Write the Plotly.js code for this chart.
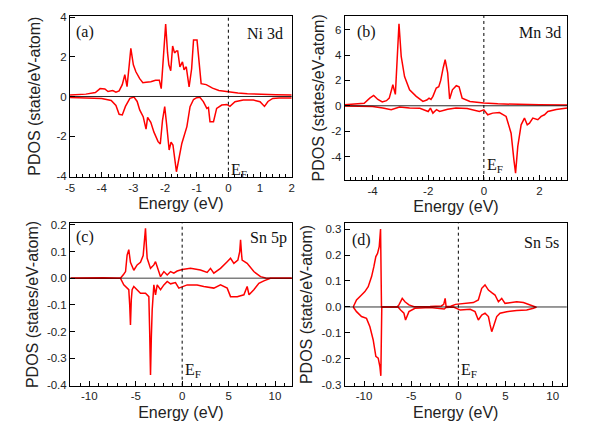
<!DOCTYPE html>
<html>
<head>
<meta charset="utf-8">
<script src="https://cdn.plot.ly/plotly-3.0.1.min.js"></script>
<style>
  html, body { margin: 0; padding: 0; background: #fff; }
  #plot { width: 599px; height: 436px; }
</style>
</head>
<body>
<div id="plot"></div>
<script>
// (a) Ni 3d
const niUpE = [-5.0, -4.5, -4.2, -4.05, -3.9, -3.8, -3.65, -3.55, -3.45, -3.35, -3.27, -3.2, -3.13, -3.08, -3.0, -2.92, -2.8, -2.7, -2.6, -2.45, -2.3, -2.18, -2.12, -2.06, -1.98, -1.92, -1.88, -1.82, -1.76, -1.7, -1.64, -1.6, -1.53, -1.45, -1.4, -1.33, -1.24, -1.16, -1.1, -0.99, -0.92, -0.86, -0.7, -0.5, -0.3, -0.1, 0.0, 0.3, 0.6, 1.0, 1.5, 2.0];
const niUp = [0.08, 0.12, 0.2, 0.4, 0.38, 0.25, 0.3, 0.22, 0.28, 0.6, 1.1, 0.5, 1.6, 2.43, 1.6, 1.25, 0.9, 0.7, 0.72, 0.75, 0.82, 0.82, 0.4, 1.6, 3.66, 2.2, 1.6, 1.3, 2.55, 2.2, 2.3, 2.3, 1.5, 1.75, 1.35, 1.5, 0.48, 1.4, 2.85, 2.85, 1.5, 0.65, 0.6, 0.42, 0.3, 0.25, 0.22, 0.18, 0.14, 0.11, 0.09, 0.08];
const niDnE = [-5.0, -4.5, -4.0, -3.7, -3.55, -3.45, -3.35, -3.25, -3.11, -2.98, -2.88, -2.8, -2.69, -2.6, -2.55, -2.45, -2.35, -2.22, -2.15, -2.08, -2.01, -1.95, -1.87, -1.81, -1.75, -1.64, -1.58, -1.47, -1.31, -1.21, -1.1, -1.0, -0.9, -0.79, -0.68, -0.63, -0.58, -0.47, -0.37, -0.21, -0.05, 0.05, 0.21, 0.47, 0.79, 1.0, 1.14, 1.25, 1.4, 1.6, 2.0];
const niDn = [-0.05, -0.06, -0.1, -0.2, -0.45, -0.9, -0.93, -0.5, -0.09, -0.03, -0.25, -0.68, -1.02, -1.65, -1.05, -1.3, -1.8, -2.28, -2.4, -1.2, -0.51, -1.4, -2.7, -2.3, -2.45, -3.8, -3.3, -2.37, -1.52, -0.51, -0.15, -0.06, -0.04, -0.26, -0.6, -0.55, -1.27, -1.27, -0.6, -0.43, -0.4, -0.5, -0.26, -0.18, -0.18, -0.26, -0.5, -0.25, -0.1, -0.08, -0.08];

// (b) Mn 3d
const mnUpE = [-5.0, -4.6, -4.3, -4.1, -3.96, -3.81, -3.65, -3.5, -3.4, -3.3, -3.27, -3.18, -3.12, -3.05, -2.97, -2.85, -2.67, -2.43, -2.19, -2.05, -1.97, -1.9, -1.83, -1.71, -1.62, -1.55, -1.46, -1.39, -1.3, -1.23, -1.13, -0.99, -0.89, -0.78, -0.5, -0.2, 0.0, 0.5, 1.0, 2.0, 3.0];
const mnUp = [0.08, 0.12, 0.2, 0.6, 0.81, 0.5, 0.3, 0.4, 0.6, 1.4, 1.66, 0.9, 3.5, 6.47, 3.9, 2.3, 1.26, 0.74, 0.34, 0.45, 0.6, 0.5, 0.74, 1.4, 1.5, 2.0, 3.0, 3.63, 2.6, 0.53, 1.26, 1.58, 1.5, 0.6, 0.34, 0.25, 0.21, 0.15, 0.12, 0.08, 0.06];
const mnDnE = [-5.0, -4.0, -3.63, -3.33, -3.03, -2.67, -2.3, -2.13, -2.0, -1.92, -1.83, -1.7, -1.59, -1.3, -1.0, -0.6, -0.16, 0.0, 0.14, 0.32, 0.56, 0.8, 0.98, 1.08, 1.14, 1.22, 1.34, 1.46, 1.56, 1.64, 1.76, 1.94, 2.06, 2.18, 2.3, 2.6, 3.0];
const mnDn = [-0.02, -0.06, -0.18, -0.32, -0.1, -0.18, -0.2, -0.32, -0.45, -0.18, -0.58, -0.3, -0.45, -0.28, -0.18, -0.22, -0.45, -0.32, -0.71, -0.58, -0.53, -0.84, -2.16, -4.26, -5.31, -3.2, -1.5, -0.97, -1.5, -1.37, -0.97, -1.1, -0.84, -0.71, -0.45, -0.3, -0.18];

// (c) Sn 5p
const spUpE = [-12, -9.5, -9, -8.5, -7, -6.65, -6.3, -6.1, -5.93, -5.75, -5.57, -5.21, -4.85, -4.49, -4.2, -4.05, -3.95, -3.85, -3.77, -3.41, -3.05, -2.87, -2.69, -2.5, -2.33, -1.97, -1.61, -1.25, -0.9, -0.54, 0, 0.9, 1.97, 2.69, 3.05, 3.41, 4.13, 4.85, 5.21, 5.57, 6.0, 6.2, 6.29, 6.4, 6.46, 7.0, 7.72, 8.44, 9, 12];
const spUp = [0, 0.002, 0.004, 0.002, 0, 0, 0.015, 0.025, 0.087, 0.107, 0.06, 0.03, 0.05, 0.06, 0.085, 0.15, 0.187, 0.12, 0.075, 0.037, 0.05, 0.062, 0.045, 0.02, 0.006, 0.025, 0.012, 0.025, 0.019, 0.027, 0.033, 0.037, 0.031, 0.022, 0.037, 0.019, 0.037, 0.062, 0.075, 0.056, 0.068, 0.1, 0.144, 0.09, 0.068, 0.056, 0.025, 0.006, 0.001, 0];
const spDnE = [-12, -7, -6.65, -6.29, -5.93, -5.75, -5.65, -5.57, -5.48, -5.39, -5.21, -4.85, -4.49, -3.95, -3.59, -3.5, -3.41, -3.32, -3.23, -3.05, -2.87, -2.69, -2.33, -1.97, -1.61, -1.25, -0.72, -0.36, 0, 0.54, 1.61, 2.33, 3.41, 4.13, 4.85, 5.21, 5.93, 6.65, 7.0, 7.2, 7.72, 8.26, 8.8, 9.5, 12];
const spDn = [0, 0, 0, -0.025, -0.037, -0.043, -0.1, -0.175, -0.08, -0.043, -0.031, -0.043, -0.056, -0.056, -0.069, -0.2, -0.363, -0.22, -0.119, -0.025, -0.062, -0.025, -0.043, -0.025, -0.012, -0.021, -0.016, -0.037, -0.031, -0.025, -0.025, -0.031, -0.037, -0.025, -0.037, -0.069, -0.069, -0.062, -0.031, -0.062, -0.043, -0.019, -0.01, 0, 0];

// (d) Sn 5s
const ssUpE = [-11.15, -10.8, -10.27, -9.91, -9.56, -9.2, -8.96, -8.75, -8.57, -8.39, -8.25, -8.15, -6.5, -6.3, -5.95, -5.66, -5.24, -4.71, -3, -1.8, -1.55, -1.4, -1.3, -0.8, -0.3, 0.5, 1.59, 2.12, 2.3, 2.48, 2.83, 3.19, 3.54, 3.89, 4.25, 4.6, 4.95, 5.48, 6.19, 6.9, 7.6, 8.2];
const ssUp = [0, 0.027, 0.046, 0.059, 0.078, 0.117, 0.155, 0.194, 0.206, 0.232, 0.3, 0, 0, 0.008, 0.033, 0.02, 0.008, 0.001, 0.002, 0.004, 0.01, 0.033, 0.002, 0.003, 0.01, 0.014, 0.017, 0.027, 0.05, 0.072, 0.085, 0.065, 0.055, 0.046, 0.02, 0.033, 0.014, 0.017, 0.02, 0.017, 0.008, 0];
const ssDnE = [-11.15, -10.8, -10.27, -9.74, -9.38, -9.03, -8.75, -8.5, -8.32, -8.22, -8.12, -6.4, -6.12, -5.77, -5.6, -5.24, -4.6, -3, -1.5, -1.3, -0.51, 0.2, 1.26, 1.77, 2.12, 2.48, 2.83, 3.19, 3.37, 3.54, 3.72, 4.07, 4.42, 5.13, 6.19, 7.25, 7.96, 8.3];
const ssDn = [0, -0.018, -0.037, -0.044, -0.076, -0.127, -0.19, -0.197, -0.23, -0.265, 0, 0, -0.012, -0.024, -0.05, -0.018, -0.005, -0.002, -0.008, -0.002, 0, -0.012, -0.009, -0.018, -0.05, -0.031, -0.024, -0.037, -0.069, -0.095, -0.076, -0.037, -0.024, -0.018, -0.014, -0.012, -0.005, 0];

// tick labels (plain hyphen minus, as in the original)
const niXTicks = [-5, -4, -3, -2, -1, 0, 1, 2];
const niXLabels = ['-5', '-4', '-3', '-2', '-1', '0', '1', '2'];
const niYTicks = [-4, -2, 0, 2, 4];
const niYLabels = ['-4', '-2', '0', '2', '4'];
const mnXTicks = [-4, -2, 0, 2];
const mnXLabels = ['-4', '-2', '0', '2'];
const mnYTicks = [-4, -2, 0, 2, 4, 6];
const mnYLabels = ['-4', '-2', '0', '2', '4', '6'];
const snXTicks = [-10, -5, 0, 5, 10];
const snXLabels = ['-10', '-5', '0', '5', '10'];
const spYTicks = [-0.4, -0.3, -0.2, -0.1, 0, 0.1, 0.2];
const spYLabels = ['-0.4', '-0.3', '-0.2', '-0.1', '0.0', '0.1', '0.2'];
const ssYTicks = [-0.3, -0.2, -0.1, 0, 0.1, 0.2, 0.3];
const ssYLabels = ['-0.3', '-0.2', '-0.1', '0.0', '0.1', '0.2', '0.3'];

const fermi = 0;
const sans = 'Liberation Sans, Arial, Helvetica, sans-serif';
const serif = 'Liberation Serif, Times New Roman, serif';
const red = '#ff0000';

function curve(x, y, xa, ya) {
  return {
    x: x, y: y, type: 'scatter', mode: 'lines',
    xaxis: xa, yaxis: ya,
    line: {color: red, width: 1.5},
    hoverinfo: 'skip'
  };
}

function xAxis(domain, range, vals, text, minor, anchor) {
  return {
    domain: domain, range: range, anchor: anchor,
    tickmode: 'array', tickvals: vals, ticktext: text,
    ticks: 'inside', ticklen: 5, tickwidth: 1, tickcolor: '#000',
    minor: {tickmode: 'linear', tick0: 0, dtick: minor, ticks: 'inside', ticklen: 3, tickcolor: '#000'},
    showline: true, linecolor: '#000', linewidth: 1, mirror: true,
    showgrid: false, zeroline: false,
    tickfont: {family: sans, size: 11.5, color: '#222'},
    title: {text: 'Energy (eV)', font: {family: sans, size: 16, color: '#222'}, standoff: 5}
  };
}

function yAxis(domain, range, vals, text, title, anchor, standoff) {
  return {
    domain: domain, range: range, anchor: anchor,
    tickmode: 'array', tickvals: vals, ticktext: text,
    ticks: 'inside', ticklen: 5, tickwidth: 1, tickcolor: '#000',
    showline: true, linecolor: '#000', linewidth: 1, mirror: true,
    showgrid: false, zeroline: false,
    tickfont: {family: sans, size: 11.5, color: '#222'},
    title: {text: title, font: {family: sans, size: 16, color: '#222'}, standoff: standoff}
  };
}

const data = [
  curve(niUpE, niUp, 'x', 'y'), curve(niDnE, niDn, 'x', 'y'),
  curve(mnUpE, mnUp, 'x2', 'y2'), curve(mnDnE, mnDn, 'x2', 'y2'),
  curve(spUpE, spUp, 'x3', 'y3'), curve(spDnE, spDn, 'x3', 'y3'),
  curve(ssUpE, ssUp, 'x4', 'y4'), curve(ssDnE, ssDn, 'x4', 'y4')
];

const xRefs = ['x', 'x2', 'x3', 'x4'];
const yRefs = ['y', 'y2', 'y3', 'y4'];
const zeroColors = ['rgba(0,0,0,0.85)', 'rgba(0,0,0,0.85)', 'rgba(0,0,0,0.5)', 'rgba(0,0,0,0.8)'];

// Fermi level (dotted) and zero line of each panel
const shapes = [];
xRefs.forEach(function(xr, i) {
  shapes.push({type: 'line', xref: xr, yref: yRefs[i] + ' domain', x0: fermi, x1: fermi, y0: 0, y1: 1,
    line: {color: '#000', width: 1, dash: 'dot'}, layer: 'above'});
  shapes.push({type: 'line', xref: xr + ' domain', yref: yRefs[i], x0: 0, x1: 1, y0: 0, y1: 0,
    line: {color: zeroColors[i], width: i === 2 ? 1.5 : 1}, layer: 'above'});
});

function label(text, i, x, y, xanchor) {
  return {text: text, xref: xRefs[i] + ' domain', yref: yRefs[i] + ' domain', x: x, y: y,
    xanchor: xanchor, yanchor: 'middle', showarrow: false,
    font: {family: serif, size: 16, color: '#111'}};
}

function fermiLabel(i, y) {
  return {text: 'E<sub>F</sub>', xref: xRefs[i], yref: yRefs[i] + ' domain', x: fermi, y: y,
    xanchor: 'left', yanchor: 'bottom', showarrow: false, xshift: 1,
    font: {family: serif, size: 16, color: '#111'}};
}

const annotations = [
  label('(a)', 0, 0.02, 0.9, 'left'), label('Ni 3d', 0, 0.97, 0.89, 'right'),
  label('(b)', 1, 0.045, 0.903, 'left'), label('Mn 3d', 1, 0.98, 0.895, 'right'),
  label('(c)', 2, 0.02, 0.917, 'left'), label('Sn 5p', 2, 0.99, 0.909, 'right'),
  label('(d)', 3, 0.022, 0.897, 'left'), label('Sn 5s', 3, 0.975, 0.879, 'right'),
  fermiLabel(0, -0.03), fermiLabel(1, 0.02), fermiLabel(2, 0.02), fermiLabel(3, 0.02)
];

const layout = {
  width: 599, height: 436,
  margin: {l: 0, r: 0, t: 0, b: 0},
  paper_bgcolor: '#fff', plot_bgcolor: '#fff',
  showlegend: false,
  xaxis: xAxis([0.1169, 0.487], [-5, 2], niXTicks, niXLabels, 0.2, 'y'),
  yaxis: yAxis([0.5947, 0.964], [-4.05, 4.08], niYTicks, niYLabels, 'PDOS (state/eV-atom)', 'x', 11),
  xaxis2: xAxis([0.5755, 0.9471], [-5, 3], mnXTicks, mnXLabels, 0.2, 'y2'),
  yaxis2: yAxis([0.5872, 0.964], [-5.85, 7.1], mnYTicks, mnYLabels, 'PDOS (states/eV-atom)', 'x2', 2),
  xaxis3: xAxis([0.1169, 0.487], [-12.08, 11.8], snXTicks, snXLabels, 1, 'y3'),
  yaxis3: yAxis([0.1154, 0.4878], [-0.403, 0.206], spYTicks, spYLabels, 'PDOS (states/eV-atom)', 'x3', 4),
  xaxis4: xAxis([0.5755, 0.9462], [-12.05, 11.5], snXTicks, snXLabels, 1, 'y4'),
  yaxis4: yAxis([0.1154, 0.4878], [-0.303, 0.322], ssYTicks, ssYLabels, 'PDOS (state/eV-atom)', 'x4', 4),
  shapes: shapes,
  annotations: annotations
};

Plotly.newPlot('plot', data, layout, {staticPlot: true});
</script>
</body>
</html>
